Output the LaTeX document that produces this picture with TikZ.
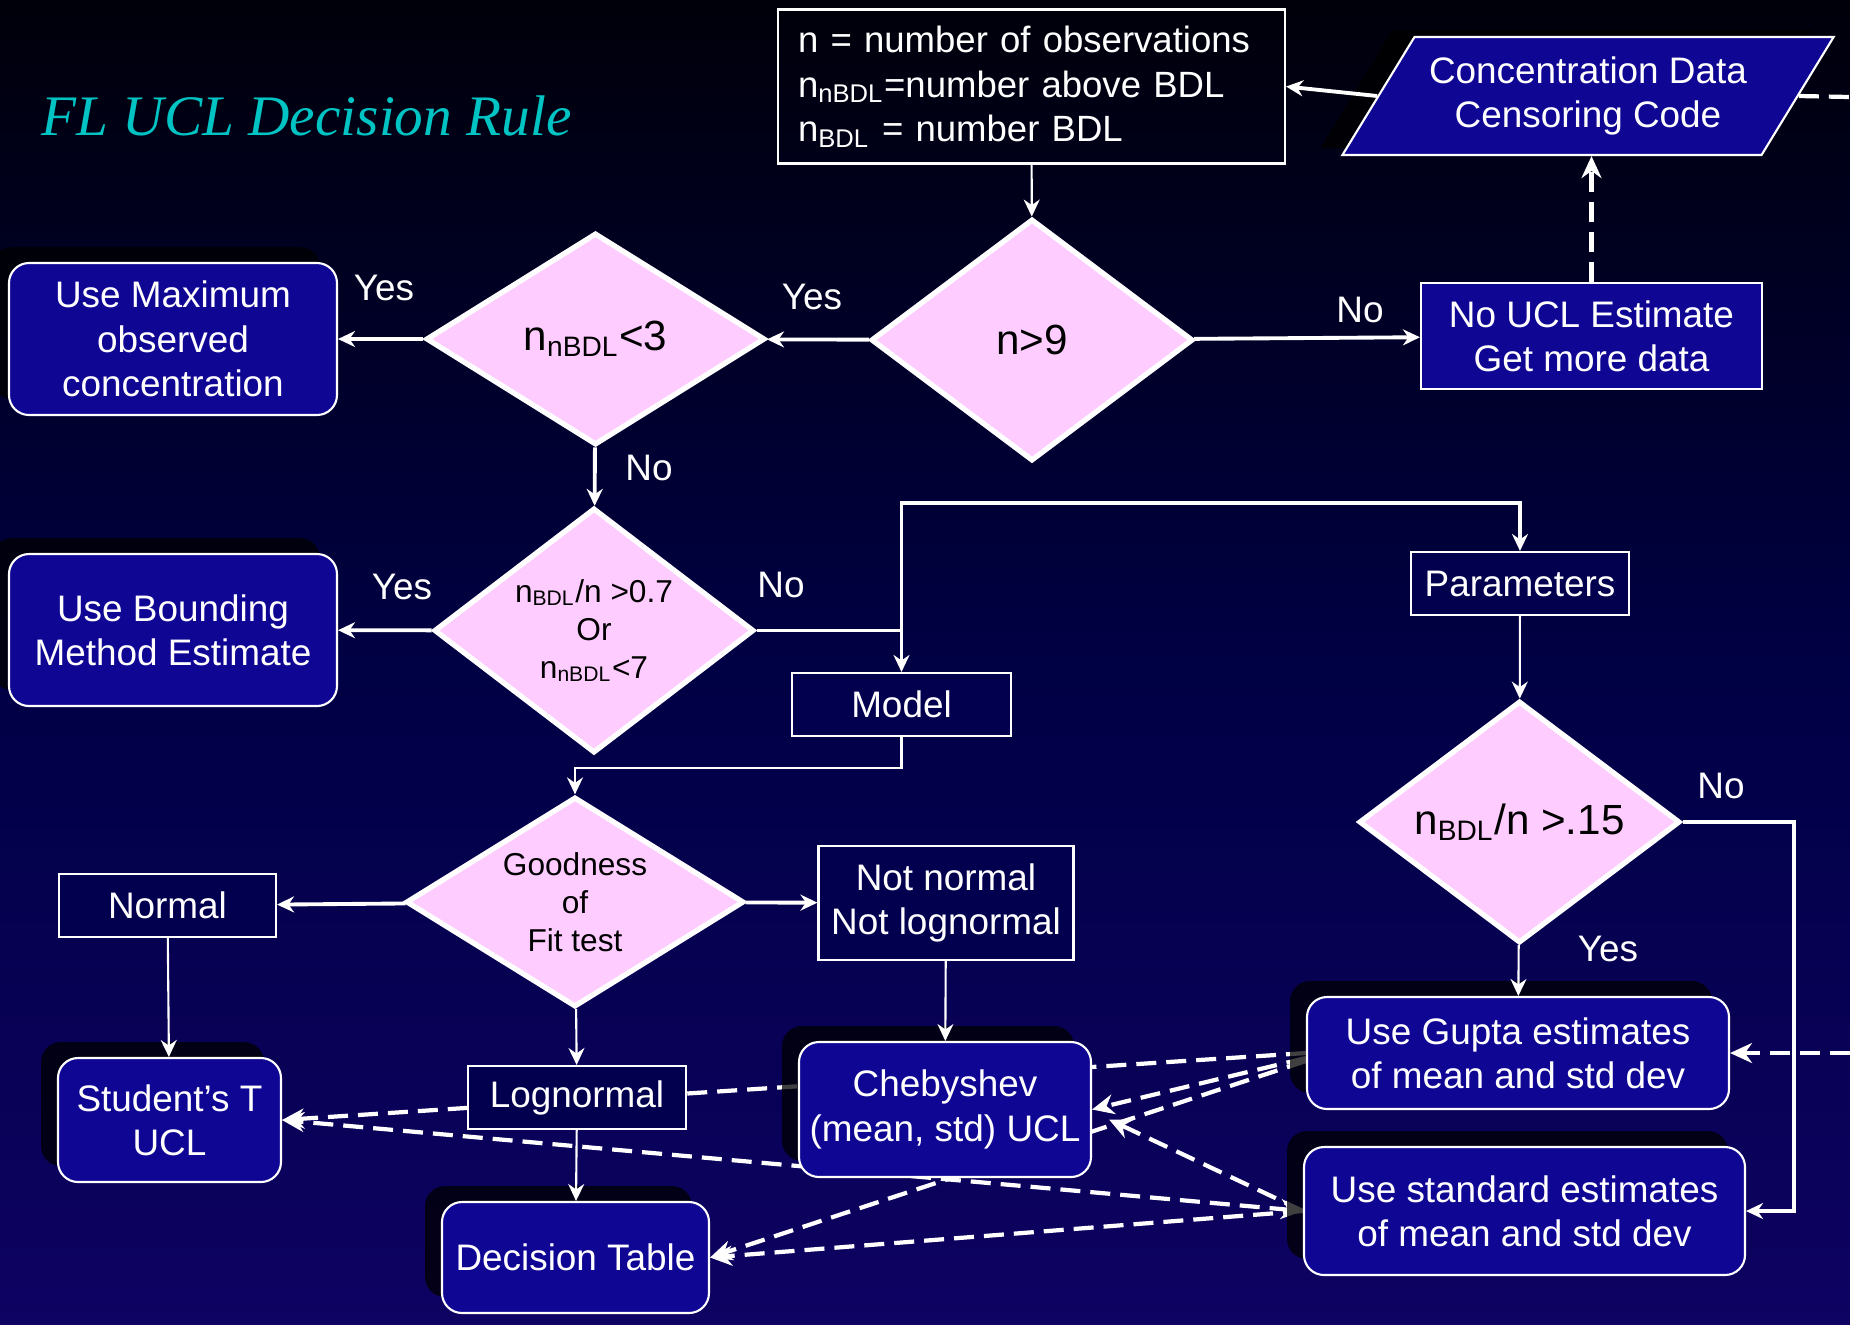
\documentclass[tikz,border=0pt]{standalone}
\usepackage{fontspec}
\setmainfont{Liberation Sans}
\newfontfamily\titlefont{Liberation Serif}
\usetikzlibrary{shapes.geometric,arrows.meta,shadows,backgrounds}

\definecolor{bgtop}{RGB}{0,0,10}
\definecolor{bgmid}{RGB}{0,0,68}
\definecolor{bgbot}{RGB}{14,2,98}
\definecolor{boxblue}{RGB}{16,6,148}
\definecolor{plainnavy}{RGB}{2,0,78}
\definecolor{testpink}{RGB}{255,204,255}
\definecolor{titleteal}{RGB}{0,196,196}

\begin{document}
\begin{tikzpicture}[>={Stealth[length=0.17cm,width=0.16cm]},
	every node/.style={text=white,inner sep=0pt,align=center,font=\fontsize{10.5}{12.6}\selectfont},
	plainbox/.style={rectangle,draw=white,line width=0.6pt,fill=plainnavy},
	stepbox/.style={rectangle,rounded corners=0.2cm,draw=white,line width=0.6pt,fill=boxblue,
		drop shadow={shadow xshift=-0.17cm,shadow yshift=0.16cm,fill=black,opacity=0.75}},
	test/.style={diamond,shape aspect=1.5,draw=white,line width=1.5pt,fill=testpink,text=black,
		font=\fontsize{12}{14}\selectfont},
	smalltest/.style={test,font=\fontsize{9}{10.8}\selectfont},
	main/.style={white,line width=1.1pt},
	side/.style={white,line width=0.6pt},
	link/.style={white,line width=1.2pt,dash pattern=on 0.2cm off 0.1cm,
		>={Stealth[length=0.22cm,width=0.2cm]}}]

            \useasboundingbox (0,0) rectangle (18.5,-13.24);
            \begin{scope}[on background layer]
                \fill[top color=bgtop,bottom color=bgbot,middle color=bgmid] (0,0) rectangle (18.5,-13.24);
            \end{scope}

            \node[anchor=base west,text=titleteal,font=\titlefont\itshape\fontsize{16.3}{19}\selectfont]
            	(title) 	at (0.41,-1.35) {FL UCL Decision Rule};

            \node[plainbox,fill=none,text width=4.67cm,inner xsep=0.2cm,minimum height=1.54cm,align=left,
            	font=\fontsize{10.4}{12.8}\selectfont]
            	(def) 		at (10.315,-0.865) {n = number of observations\\n\textsubscript{nBDL}=number above BDL\\n\textsubscript{BDL} = number BDL};
            \node[trapezium,trapezium left angle=50,trapezium right angle=130,trapezium stretches=true,
            	minimum width=4.92cm,minimum height=1.18cm,draw=white,line width=0.6pt,fill=boxblue,
            	drop shadow={shadow xshift=-0.22cm,shadow yshift=0.07cm,fill=black,opacity=0.75}]
            	(censor) 	at (15.88,-0.96) {Concentration Data\\Censoring Code};
            \node[plainbox,fill=boxblue,minimum width=3.41cm,minimum height=1.06cm]
            	(nodata) 	at (15.915,-3.36) {No UCL Estimate\\Get more data};

            \node[test,minimum width=3.22cm,minimum height=2.42cm]
            	(nine) 		at (10.32,-3.40) {n>9};
            \node[test,minimum width=3.39cm,minimum height=2.12cm]
            	(few) 		at (5.955,-3.39) {n\textsubscript{nBDL}<3};
            \node[smalltest,minimum width=3.20cm,minimum height=2.45cm]
            	(many) 		at (5.94,-6.305) {n\textsubscript{BDL}/n >0.7\\Or\\n\textsubscript{nBDL}<7};
            \node[smalltest,minimum width=3.38cm,minimum height=2.10cm]
            	(fit) 		at (5.75,-9.02) {Goodness\\of\\Fit test};
            \node[test,minimum width=3.21cm,minimum height=2.42cm]
            	(share) 	at (15.195,-8.22) {n\textsubscript{BDL}/n >.15};

            \node[stepbox,minimum width=3.28cm,minimum height=1.52cm]
            	(maximum) 	at (1.73,-3.39) {Use Maximum\\observed\\concentration};
            \node[stepbox,minimum width=3.28cm,minimum height=1.52cm]
            	(bounding) 	at (1.73,-6.30) {Use Bounding\\Method Estimate};
            \node[plainbox,minimum width=2.19cm,minimum height=0.63cm]
            	(model) 	at (9.015,-7.045) {Model};
            \node[plainbox,minimum width=2.18cm,minimum height=0.63cm]
            	(params) 	at (15.20,-5.835) {Parameters};
            \node[plainbox,minimum width=2.17cm,minimum height=0.63cm]
            	(normal) 	at (1.675,-9.055) {Normal};
            \node[plainbox,minimum width=2.55cm,minimum height=1.14cm]
            	(other) 	at (9.46,-9.03) {Not normal\\Not lognormal};
            \node[plainbox,minimum width=2.18cm,minimum height=0.63cm]
            	(lognormal) at (5.77,-10.975) {Lognormal};
            \node[stepbox,minimum width=2.23cm,minimum height=1.24cm]
            	(student) 	at (1.695,-11.20) {Student’s T\\UCL};
            \node[stepbox,minimum width=2.67cm,minimum height=1.11cm]
            	(table) 	at (5.755,-12.575) {Decision Table};
            \node[stepbox,minimum width=2.92cm,minimum height=1.35cm]
            	(cheb) 		at (9.45,-11.095) {Chebyshev\\(mean, std) UCL};
            \node[stepbox,minimum width=4.22cm,minimum height=1.12cm]
            	(gupta) 	at (15.18,-10.53) {Use Gupta estimates\\of mean and std dev};
            \node[stepbox,minimum width=4.41cm,minimum height=1.28cm]
            	(standard) 	at (15.245,-12.11) {Use standard estimates\\of mean and std dev};

            \node (yesmax) 	at (3.84,-2.88) {Yes};
            \node (yesnine) at (8.12,-2.97) {Yes};
            \node (nonine) 	at (13.60,-3.10) {No};
            \node (nofew) 	at (6.49,-4.68) {No};
            \node (yesmany) at (4.02,-5.87) {Yes};
            \node (nomany) 	at (7.81,-5.85) {No};
            \node (noshare) at (17.21,-7.86) {No};
            \node (yesshare) at (16.08,-9.49) {Yes};

            \coordinate (offtop) 	at (18.5,-0.97);
            \coordinate (offside) 	at (18.5,-10.53);
            \coordinate (over) 		at (9.015,-5.03);

            \begin{scope}[main]
                \path[->] (censor.west) edge (def.east);
                \path[->] (nine) edge (few);
                \path[->] (nine) edge (nodata);
                \path[->] (few) edge (maximum);
                \path[->] (few) edge (many);
                \path[->] (many) edge (bounding);
                \path[->] (fit) edge (normal);
                \path[->] (fit) edge (other);
                \draw[->] (many) -| (model);
                \draw[->] (model |- many) -- (over) -| (params);
                \draw[->] (share) -| ([xshift=0.48cm]standard.east) -- (standard);
            \end{scope}
            \begin{scope}[side]
                \path[->] (def) edge (nine);
                \path[->] (params) edge (share);
                \path[->] (share) edge (gupta);
                \path[->] (fit) edge (lognormal);
                \path[->] (normal) edge (student);
                \path[->] (lognormal) edge (table);
                \path[->] (other) edge (cheb);
                \draw[->] (model.south) -- ++(0,-0.31) -| (fit);
            \end{scope}
            \begin{scope}[on background layer]
            \begin{scope}[link]
                \path[->] (nodata.north) edge (nodata.north |- censor.south);
                \path (censor.east) edge (offtop);
                \path[->] (offside) edge (gupta.east);
                \path[->] (gupta.west) edge (student.east);
                \path[->] ([yshift=-0.05cm]gupta.west) edge (cheb.east);
                \path[->] ([yshift=-0.08cm]gupta.west) edge (table.east);
                \path[->] (standard.west) edge ([xshift=0.17cm,yshift=-0.1cm]cheb.east);
                \path[<->] (standard.west) edge (student.east);
                \path[->] (standard.west) edge (table.east);
            \end{scope}
            \end{scope}
        \end{tikzpicture}
\end{document}
